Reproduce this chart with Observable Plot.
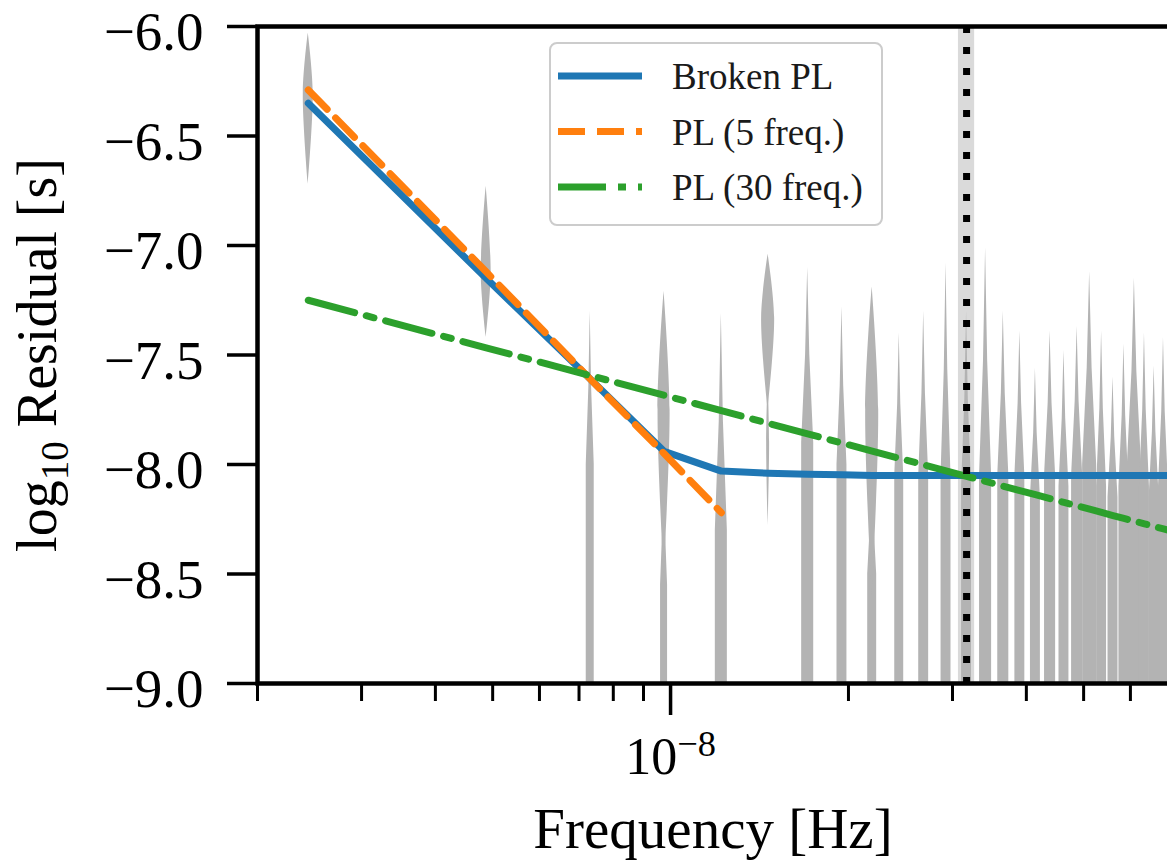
<!DOCTYPE html>
<html>
<head>
<meta charset="utf-8">
<script src="https://cdn.jsdelivr.net/npm/d3@7"></script>
<script src="https://cdn.jsdelivr.net/npm/@observablehq/plot@0.6"></script>
<style>
html, body { margin: 0; padding: 0; overflow: hidden; background: #ffffff; }
#chart { position: absolute; left: 0; top: 0; }
#chart svg { max-width: none !important; }
</style>
</head>
<body>
<div id="chart"></div>
<script>
// ---------------- data ----------------
const harmonics = [1,2,3,4,5,6,7,8,9,10,11,12,13,14,15,16,17,18,19,20,21,22,23,24,25,26,27,28,29,30];
const frequencies = [2.4375e-9,4.875e-9,7.3125e-9,9.75e-9,1.21875e-8,1.4625e-8,1.70625e-8,1.95e-8,2.19375e-8,2.4375e-8,
  2.68125e-8,2.925e-8,3.16875e-8,3.4125e-8,3.65625e-8,3.9e-8,4.14375e-8,4.3875e-8,4.63125e-8,4.875e-8,
  5.11875e-8,5.3625e-8,5.60625e-8,5.85e-8,6.09375e-8,6.3375e-8,6.58125e-8,6.825e-8,7.06875e-8,7.3125e-8];

// log10 residual of the three models at each frequency
const brokenPL = [-6.35,-7.15,-7.61,-7.94,-8.03,-8.04,-8.045,-8.047,-8.05,-8.05,
  -8.05,-8.05,-8.05,-8.05,-8.05,-8.05,-8.05,-8.05,-8.05,-8.05,
  -8.05,-8.05,-8.05,-8.05,-8.05,-8.05,-8.05,-8.05,-8.05,-8.05];
const pl5 = [-6.29,-7.12,-7.61,-7.95,-8.22];
const pl30 = [-7.250,-7.467,-7.594,-7.684,-7.754,-7.812,-7.860,-7.902,-7.939,-7.972,
  -8.001,-8.029,-8.054,-8.077,-8.099,-8.119,-8.138,-8.156,-8.173,-8.189,
  -8.204,-8.219,-8.233,-8.246,-8.259,-8.271,-8.283,-8.294,-8.305,-8.316];

// violin parts: harmonic, top, widest point, bottom, relative width, shape
const violinK      = [1, 2, 3, 4, 4, 5, 6, 6, 7, 8, 9, 9, 10, 11, 12, 13, 14, 15, 16, 17, 18, 19, 20, 21, 22, 23, 24, 25, 26, 27, 28, 29, 30];
const violinTop    = [-6.03,-6.73,-7.30,-7.21,-8.00,-7.31,-7.04,-7.60,-7.10,-7.28,-7.19,-8.00,-7.40,-7.30,-7.08,-7.30,-7.01,-7.30,-7.39,-7.56,-7.39,-7.48,-7.37,-7.12,-7.39,-7.60,-7.45,-7.15,-7.40,-7.55,-7.42,-7.40,-7.45];
const violinPeak   = [-6.30,-7.13,-8.00,-7.75,-8.55,-8.30,-7.33,-7.90,-7.90,-8.00,-7.75,-8.50,-8.05,-8.05,-8.05,-8.10,-8.05,-8.05,-8.05,-8.15,-8.05,-8.10,-8.05,-8.00,-8.10,-8.15,-8.10,-8.00,-8.10,-8.15,-8.10,-8.10,-8.10];
const violinBottom = [-6.72,-7.42,-9.30,-8.50,-9.30,-9.30,-7.75,-8.28,-9.30,-9.30,-8.60,-9.30,-9.30,-9.30,-9.30,-9.30,-9.30,-9.30,-9.30,-9.30,-9.30,-9.30,-9.30,-9.30,-9.30,-9.30,-9.30,-9.30,-9.30,-9.30,-9.30,-9.30,-9.30];
const violinWidth  = [0.71,0.71,0.57,0.86,0.50,0.86,0.93,0.21,0.86,0.71,0.93,0.64,0.64,0.71,0.71,0.71,0.86,0.79,0.71,0.71,0.79,0.71,0.79,1.00,0.71,0.71,0.71,1.00,0.71,0.71,0.71,0.71,0.71];
const violinShape  = ["lens","lens","spike","lens","spike","spike","lens","lens","spike","spike","lens","spike","spike","spike","spike","spike","spike","spike","spike","spike","spike","spike","spike","spike","spike","spike","spike","spike","spike","spike","spike","spike","spike"];

const oneYearFreq = 3.169e-8;
const oneYearBand = [3.07e-8, 3.27e-8];

const xMajorTicks = [1e-8];
const xMajorTickLabels = ["10^\u22128"];
const xMinorTicks = [2e-9,3e-9,4e-9,5e-9,6e-9,7e-9,8e-9,9e-9,2e-8,3e-8,4e-8,5e-8,6e-8,7e-8];
const yTicks = [-6.0,-6.5,-7.0,-7.5,-8.0,-8.5,-9.0];
const seriesNames = ["Broken PL", "PL (5 freq.)", "PL (30 freq.)"];
const xTitle = "Frequency [Hz]";
const yTitle = ["log", "10", " Residual [s]"];

// ---------------- layout & styles ----------------
const W = 1190, H = 861;
const mL = 257, mR = 8, mT = 26, mB = 178;
const xDomain = [2e-9, 7.35e-8];
const yDomain = [-9, -6];
const FONT = "'Liberation Serif', 'Times New Roman', Times, serif";
const colors = ["#1f77b4", "#ff7f0e", "#2ca02c"];
const dashes = [null, "27,12", "48,12,8,12"];
const LW = 7;
const violinFill = "#b3b3b3";
const maxHalfWidthPx = 7;
const pxPerDecade = (W - mL - mR) / Math.log10(xDomain[1] / xDomain[0]);

// ---------------- build violin outlines ----------------
const lensRows = [], spikeRows = [];
violinK.forEach((k, i) => {
  const f = frequencies[k - 1];
  const d = violinWidth[i] * maxHalfWidthPx / pxPerDecade;
  const t = violinTop[i], p = violinPeak[i], b = violinBottom[i];
  if (violinShape[i] === "lens") {
    for (const [v, s] of [[t, 0], [p, 1], [b, 0]])
      lensRows.push({part: i, y: v, x1: f * 10 ** (-d * s), x2: f * 10 ** (d * s)});
  } else {
    for (const [v, s] of [[t, 0], [(t + p) / 2, 0.35], [p, 1], [b, 1]])
      spikeRows.push({part: i, y: v, x1: f * 10 ** (-d * s), x2: f * 10 ** (d * s)});
  }
});

const brokenRows = frequencies.map((f, i) => ({f, v: brokenPL[i]}));
const pl5Rows = pl5.map((v, i) => ({f: frequencies[i], v}));
const pl30Rows = frequencies.map((f, i) => ({f, v: pl30[i]}));

const chart = Plot.plot({
  width: W, height: H,
  marginLeft: mL, marginRight: mR, marginTop: mT, marginBottom: mB,
  x: {type: "log", domain: xDomain},
  y: {domain: yDomain},
  style: {fontFamily: FONT, background: "white", color: "black", overflow: "visible", maxWidth: "none"},
  marks: [
    Plot.rect([{a: oneYearBand[0], b: oneYearBand[1]}], {x1: "a", x2: "b", fill: "#dadada"}),
    Plot.areaX(spikeRows, {x1: "x1", x2: "x2", y: "y", z: "part", fill: violinFill, curve: "linear", clip: true}),
    Plot.areaX(lensRows, {x1: "x1", x2: "x2", y: "y", z: "part", fill: violinFill, curve: "catmull-rom", clip: true}),
    Plot.line(brokenRows, {x: "f", y: "v", stroke: colors[0], strokeWidth: LW, clip: true}),
    Plot.line(pl5Rows, {x: "f", y: "v", stroke: colors[1], strokeWidth: LW, strokeDasharray: dashes[1], clip: true}),
    Plot.line(pl30Rows, {x: "f", y: "v", stroke: colors[2], strokeWidth: LW, strokeDasharray: dashes[2], clip: true}),
    Plot.ruleX([oneYearFreq], {stroke: "black", strokeWidth: 7, strokeDasharray: "7,14"}),
    Plot.frame({stroke: "black", strokeWidth: 4.5}),
    Plot.axisY({ticks: yTicks, tickSize: 30, tickPadding: 24, fontSize: 55, strokeWidth: 3.5,
      tickFormat: d3.format(".1f"), label: null}),
    Plot.axisX({ticks: xMinorTicks, tickSize: 18, strokeWidth: 3, tickFormat: () => "", label: null}),
    Plot.axisX({ticks: xMajorTicks, tickSize: 32, tickPadding: 22, fontSize: 52, strokeWidth: 3.5,
      tickFormat: (d) => xMajorTickLabels[xMajorTicks.indexOf(d)], label: null})
  ]
});

chart.style.maxWidth = "none";
chart.style.width = W + "px";
chart.style.height = H + "px";
document.getElementById("chart").appendChild(chart);
const svg = d3.select(chart);

// y tick labels: matplotlib centres them slightly lower than the tick
svg.selectAll("text").each(function () {
  const s = this.textContent;
  if (/^\u2212\d\.\d$/.test(s)) {
    const t = this.getAttribute("transform") || "";
    this.setAttribute("transform", t + " translate(0,6)");
  }
});

// superscript tick labels
svg.selectAll("text").each(function () {
  const s = this.textContent;
  if (s.includes("^")) {
    const [base, exp] = s.split("^");
    const el = d3.select(this);
    el.selectAll("*").remove();
    el.text(null);
    el.append("tspan").text(base);
    el.append("tspan").attr("font-size", "0.7em").attr("dy", "-0.5em").text(exp);
  }
});

// axis titles
svg.append("text")
  .attr("x", 713).attr("y", 848)
  .attr("text-anchor", "middle").attr("font-size", 57).attr("font-family", FONT)
  .attr("fill", "black").text(xTitle);

const yt = svg.append("text")
  .attr("transform", `translate(56,355) rotate(-90)`)
  .attr("text-anchor", "middle").attr("font-size", 56).attr("font-family", FONT).attr("fill", "black");
yt.append("tspan").text(yTitle[0]);
yt.append("tspan").attr("font-size", "0.7em").attr("dy", "0.3em").text(yTitle[1]);
yt.append("tspan").attr("dy", "-0.21em").text(yTitle[2]);

// legend
const lg = svg.append("g");
lg.append("rect").attr("x", 550).attr("y", 43).attr("width", 332).attr("height", 182)
  .attr("rx", 7).attr("fill", "white").attr("fill-opacity", 0.8)
  .attr("stroke", "#cccccc").attr("stroke-width", 2);
seriesNames.forEach((name, i) => {
  const cy = 76 + i * 55.5;
  const ln = lg.append("line").attr("x1", 558).attr("x2", 642).attr("y1", cy).attr("y2", cy)
    .attr("stroke", colors[i]).attr("stroke-width", LW);
  if (dashes[i]) ln.attr("stroke-dasharray", dashes[i]);
  lg.append("text").attr("x", 672).attr("y", cy + 13).attr("font-size", 37)
    .attr("text-anchor", "start")
    .attr("font-family", FONT).attr("fill", "#1a1a1a").text(name);
});
</script>
</body>
</html>
